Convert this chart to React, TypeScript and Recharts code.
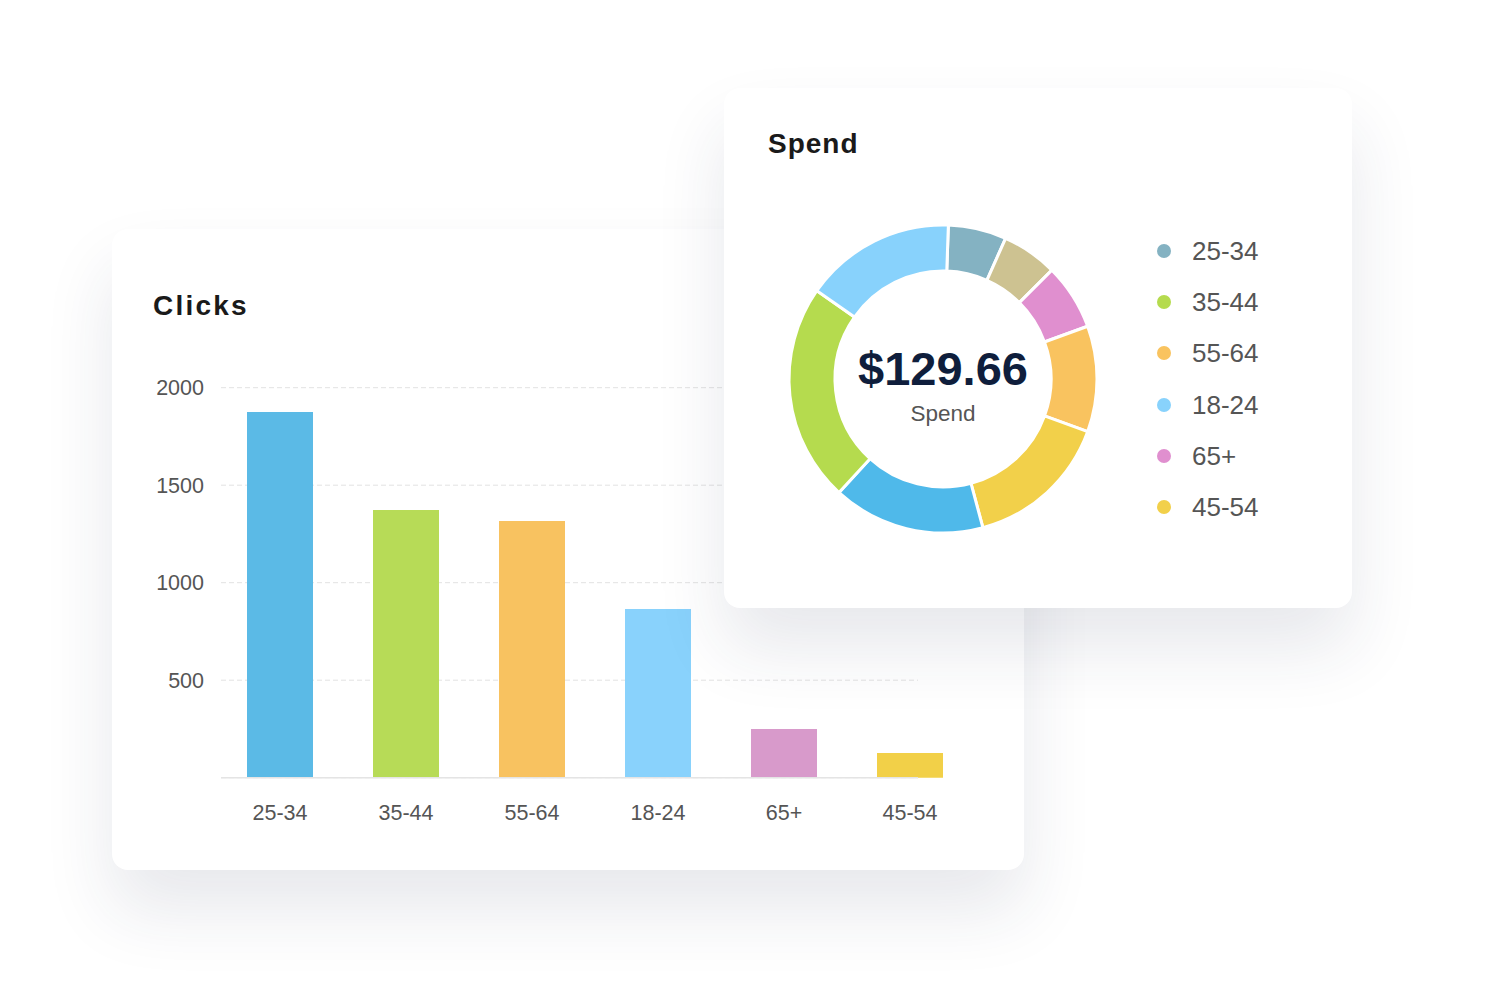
import React from 'react';
import { BarChart, Bar, XAxis, YAxis, CartesianGrid, Cell, PieChart, Pie } from 'recharts';

// clicks per age group (bar card)
const ageGroups = ['25-34', '35-44', '55-64', '18-24', '65+', '45-54'];
const clickValues = [1875, 1373, 1316, 865, 250, 127];
const barColors = ['#5bbae6', '#b7db57', '#f8c260', '#89d2fc', '#d89acb', '#f2d048'];
const clickTicks = [500, 1000, 1500, 2000];

// spend slices, clockwise from the top
const spendNames = ['25-34', 'Other', '65+', '55-64', '45-54', 'Unknown', '35-44', '18-24'];
const spendValues = [7.92, 7.56, 9.0, 14.41, 19.81, 20.71, 29.71, 20.54];
const spendColors = ['#84b2c2', '#cdc291', '#e08fcf', '#f9c35f', '#f2d04a', '#4fb9ea', '#b5db4e', '#88d2fc'];
const spendTotal = '$129.66';

// legend of the spend card
const legendLabels = ['25-34', '35-44', '55-64', '18-24', '65+', '45-54'];
const legendColors = ['#84b2c2', '#b5db4e', '#f9c35f', '#88d2fc', '#e08fcf', '#f2d04a'];

const font = '"Liberation Sans", Arial, Helvetica, sans-serif';
const shadow = '0 40px 70px rgba(40, 50, 80, 0.11)';

const clickData = ageGroups.map((g, i) => ({ group: g, clicks: clickValues[i] }));
const spendData = spendNames.map((n, i) => ({ name: n, value: spendValues[i] }));

function ClicksCard() {
  return (
    <div
      style={{
        position: 'absolute',
        left: 112,
        top: 229,
        width: 912,
        height: 641,
        background: '#fff',
        borderRadius: 16,
        boxShadow: shadow,
      }}
    >
      <div
        style={{
          position: 'absolute',
          left: 41,
          top: 63,
          fontSize: 28,
          lineHeight: '28px',
          fontWeight: 700,
          letterSpacing: 2.2,
          color: '#1a1a1a',
        }}
      >
        Clicks
      </div>
      <div style={{ position: 'absolute', left: 0, top: 0 }}>
        <BarChart
          width={912}
          height={641}
          data={clickData}
          margin={{ top: 158.7, right: 106, bottom: 32.3, left: 29 }}
        >
          <CartesianGrid horizontal vertical={false} stroke="#e2e2e2" strokeDasharray="5 3" />
          <XAxis
            dataKey="group"
            padding={{ left: -4, right: -55 }}
            height={60}
            tickLine={false}
            tickSize={0}
            tickMargin={27}
            axisLine={{ stroke: '#e4e4e4', strokeWidth: 1.5 }}
            tick={{ fill: '#555', fontSize: 21.5, fontFamily: font }}
          />
          <YAxis
            width={80}
            domain={[0, 2000]}
            ticks={clickTicks}
            axisLine={false}
            tickLine={false}
            tickSize={0}
            tickMargin={17}
            tick={{ fill: '#555', fontSize: 21.5, fontFamily: font }}
          />
          <Bar dataKey="clicks" barSize={66} isAnimationActive={false}>
            {clickData.map((d, i) => (
              <Cell key={d.group} fill={barColors[i]} />
            ))}
          </Bar>
        </BarChart>
      </div>
    </div>
  );
}

function SpendCard() {
  return (
    <div
      style={{
        position: 'absolute',
        left: 724,
        top: 88,
        width: 628,
        height: 520,
        background: '#fff',
        borderRadius: 16,
        boxShadow: shadow,
      }}
    >
      <div
        style={{
          position: 'absolute',
          left: 44,
          top: 42,
          fontSize: 28,
          lineHeight: '28px',
          fontWeight: 700,
          letterSpacing: 1,
          color: '#1a1a1a',
        }}
      >
        Spend
      </div>
      <div style={{ position: 'absolute', left: 0, top: 0 }}>
        <PieChart width={628} height={520} margin={{ top: 0, right: 0, bottom: 0, left: 0 }}>
          <Pie
            data={spendData}
            dataKey="value"
            nameKey="name"
            cx={219}
            cy={291}
            innerRadius={108}
            outerRadius={154}
            startAngle={88}
            endAngle={-272}
            stroke="#fff"
            strokeWidth={3}
            isAnimationActive={false}
          >
            {spendData.map((d, i) => (
              <Cell key={d.name} fill={spendColors[i]} />
            ))}
          </Pie>
        </PieChart>
      </div>
      <div
        style={{
          position: 'absolute',
          left: 119,
          width: 200,
          top: 258,
          textAlign: 'center',
          fontSize: 47,
          lineHeight: '46px',
          fontWeight: 700,
          color: '#0f1e3c',
        }}
      >
        {spendTotal}
      </div>
      <div
        style={{
          position: 'absolute',
          left: 119,
          width: 200,
          top: 315,
          textAlign: 'center',
          fontSize: 22.5,
          lineHeight: '22px',
          color: '#555',
        }}
      >
        Spend
      </div>
      {legendLabels.map((label, i) => (
        <div
          key={label}
          style={{
            position: 'absolute',
            left: 433,
            top: 163 + i * 51.2 - 13,
            height: 26,
            display: 'flex',
            alignItems: 'center',
          }}
        >
          <span
            style={{
              width: 14,
              height: 14,
              borderRadius: 7,
              background: legendColors[i],
              display: 'inline-block',
            }}
          />
          <span style={{ marginLeft: 21, fontSize: 26, lineHeight: '26px', color: '#555' }}>{label}</span>
        </div>
      ))}
    </div>
  );
}

export default function App() {
  return (
    <div
      style={{
        position: 'absolute',
        left: 0,
        top: 0,
        width: 1500,
        height: 1000,
        background: '#fff',
        fontFamily: font,
        overflow: 'hidden',
      }}
    >
      <ClicksCard />
      <SpendCard />
    </div>
  );
}
